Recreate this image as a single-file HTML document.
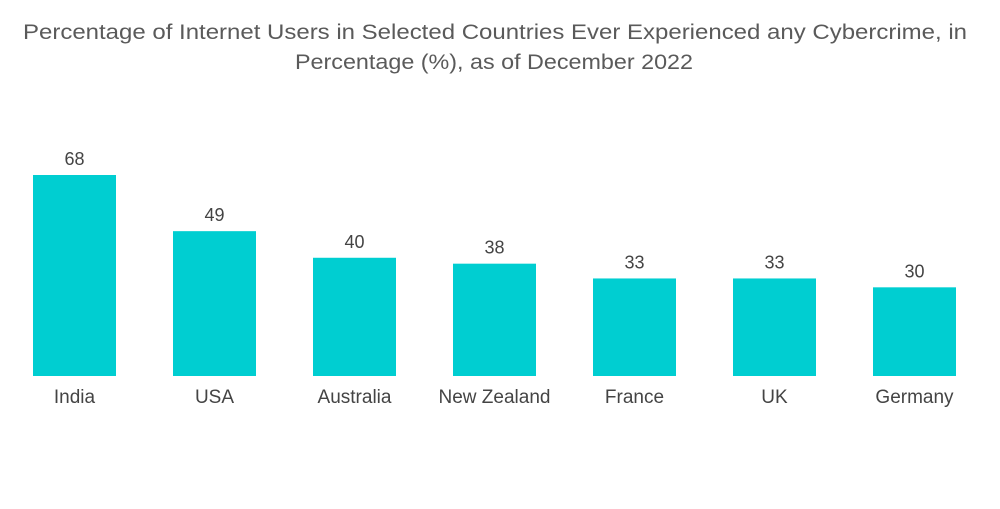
<!DOCTYPE html>
<html><head><meta charset="utf-8"><style>
html,body{margin:0;padding:0;background:#fff;}
body{width:1000px;height:504px;overflow:hidden;font-family:"Liberation Sans",sans-serif;}
</style></head><body>
<svg width="1000" height="504">
<text x="495" y="39" text-anchor="middle" font-size="21" fill="#5a5a5a" textLength="944" lengthAdjust="spacingAndGlyphs">Percentage of Internet Users in Selected Countries Ever Experienced any Cybercrime, in</text>
<text x="494" y="69" text-anchor="middle" font-size="21" fill="#5a5a5a" textLength="398" lengthAdjust="spacingAndGlyphs">Percentage (%), as of December 2022</text>
<g id="bars"></g>
</svg>
<script>
const categories=["India","USA","Australia","New Zealand","France","UK","Germany"];
const values=[68,49,40,38,33,33,30];
const g=document.getElementById('bars');
const ns="http://www.w3.org/2000/svg";
const baseY=376, scale=201/68, step=140, x0=33, bw=83;
function xPos(i){return x0+i*step;}
function yPos(v){return baseY-v*scale;}
categories.forEach((c,i)=>{
  const r=document.createElementNS(ns,'rect');
  r.setAttribute('x',xPos(i));r.setAttribute('y',yPos(values[i]));
  r.setAttribute('width',bw);r.setAttribute('height',baseY-yPos(values[i]));
  r.setAttribute('fill','#00ced1');
  
  
  g.appendChild(r);
  const t=document.createElementNS(ns,'text');
  t.setAttribute('x',xPos(i)+bw/2);t.setAttribute('y',yPos(values[i])-10);
  t.setAttribute('text-anchor','middle');t.setAttribute('font-size','18');t.setAttribute('fill','#444');
  t.textContent=values[i];
  
  
  g.appendChild(t);
  const l=document.createElementNS(ns,'text');
  l.setAttribute('x',xPos(i)+bw/2);l.setAttribute('y',403);
  l.setAttribute('text-anchor','middle');l.setAttribute('font-size','19');l.setAttribute('fill','#444');
  l.textContent=c;
  
  
  g.appendChild(l);
});
</script>
</body></html>
